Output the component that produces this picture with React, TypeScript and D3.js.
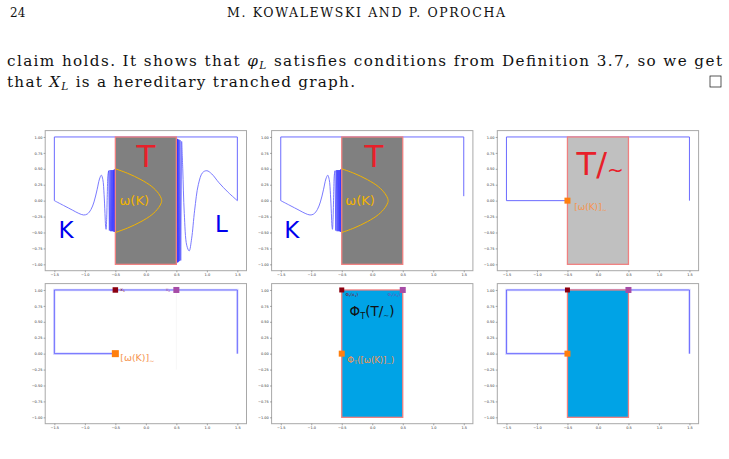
import React, { useRef, useEffect } from "react";
import * as d3 from "d3";

const width = 729;
const height = 459;

// panel placement (axes frames)
const colX = [45.2, 271.6, 497.3];
const rowY = [130.6, 283.6];
const panelW = 201.3;
const panelH = 140.1;

const xTicks = [-1.5, -1.0, -0.5, 0.0, 0.5, 1.0, 1.5];
const yTicks = [-1.0, -0.75, -0.5, -0.25, 0.0, 0.25, 0.5, 0.75, 1.0];

// the tranche box T
const boxLo = [-0.5, -1];
const boxHi = [0.5, 1];

// outer polylines
const frameOpen = [[-1.5, 0], [-1.5, 1], [1.5, 1], [1.5, 0]];
const frameShort = [[-1.5, 0], [-1.5, 1], [1.5, 1], [1.5, 0.07]];
const frameClosed = [[-0.5, 0], [-1.5, 0], [-1.5, 1], [1.5, 1], [1.5, 0]];

// K curve
const kWave = [
  [-1.5, 0], [-1.35, -0.075], [-1.2, -0.15], [-1.1, -0.2], [-1.02, -0.225],
  [-0.96, -0.21], [-0.9, -0.14], [-0.85, -0.02], [-0.8, 0.17], [-0.76, 0.34],
  [-0.73, 0.4], [-0.705, 0.33], [-0.685, 0.1], [-0.67, -0.2], [-0.66, -0.4],
  [-0.652, -0.45], [-0.643, -0.3], [-0.632, 0.1], [-0.622, 0.4], [-0.61, 0.47],
];
const kDense = [
  [-0.61, 0.47], [-0.598, -0.47], [-0.588, 0.48], [-0.578, -0.48], [-0.57, 0.48],
  [-0.562, -0.48], [-0.555, 0.48], [-0.548, -0.48], [-0.541, 0.48], [-0.535, -0.48],
  [-0.529, 0.48], [-0.524, -0.49], [-0.519, 0.49], [-0.514, -0.49], [-0.509, 0.49],
  [-0.505, -0.49], [-0.502, 0.49],
];

// L curve
const lDense = [
  [0.502, 0.97], [0.505, -0.97], [0.509, 0.97], [0.513, -0.97], [0.518, 0.97],
  [0.523, -0.97], [0.529, 0.96], [0.535, -0.96], [0.542, 0.96], [0.55, -0.95],
  [0.56, 0.95], [0.572, -0.94], [0.587, 0.93],
];
const lWave = [
  [0.587, 0.93], [0.605, 0.5], [0.63, -0.2], [0.67, -0.7], [0.71, -0.79],
  [0.75, -0.6], [0.8, -0.15], [0.86, 0.25], [0.93, 0.44], [1.0, 0.47],
  [1.08, 0.42], [1.2, 0.28], [1.35, 0.13], [1.5, 0],
];

// omega(K) arc
const omegaCurve = [
  [-0.5, 0.5], [-0.3, 0.43], [-0.08, 0.33], [0.1, 0.22], [0.21, 0.11],
  [0.255, 0.03], [0.26, 0], [0.255, -0.03], [0.21, -0.11], [0.1, -0.22],
  [-0.08, -0.33], [-0.3, -0.43], [-0.5, -0.5],
];

const x1Point = [-0.5, 1];
const x2Point = [0.5, 1];
const omegaPoint = [-0.5, 0];
const guideLine = [[0.5, 1], [0.5, -0.25]];

const blue = "#6b6bff";
const red = "#e8202a";
const gold = "#f2b400";
const orange = "#ff7f0e";
const orangeText = "#f5954f";
const maroon = "#8b0010";
const purple = "#a64ca6";
const sky = "#00a3e6";
const coral = "#f08080";
const sans = "DejaVu Sans";
const serif = "DejaVu Serif";

const Panel = ({ col, row, children }) => {
  const gx = useRef(null);
  const gy = useRef(null);
  const x0 = colX[col];
  const y0 = rowY[row];
  const x = d3.scaleLinear().domain([-1.65, 1.65]).range([x0, x0 + panelW]);
  const y = d3.scaleLinear().domain([-1.1, 1.1]).range([y0 + panelH, y0]);

  useEffect(() => {
    const ax = d3
      .select(gx.current)
      .call(
        d3.axisBottom(x).tickValues(xTicks).tickFormat(d3.format(".1f")).tickSize(1.6).tickPadding(1.2)
      );
    const ay = d3
      .select(gy.current)
      .call(
        d3.axisLeft(y).tickValues(yTicks).tickFormat(d3.format(".2f")).tickSize(1.6).tickPadding(1.2)
      );
    [ax, ay].forEach((g) => {
      g.select(".domain").remove();
      g.attr("font-size", 3.5).attr("font-family", sans).attr("color", "#555");
      g.selectAll("line").attr("stroke-width", 0.5);
      g.selectAll("text").attr("fill", "#333");
    });
  }, []);

  return (
    <g>
      {children(x, y)}
      <rect x={x0} y={y0} width={panelW} height={panelH} fill="none" stroke="#a8a8a8" strokeWidth={1} />
      <g ref={gx} transform={`translate(0,${y0 + panelH})`} />
      <g ref={gy} transform={`translate(${x0},0)`} />
    </g>
  );
};

const lineOf = (x, y, curve) =>
  d3.line().x((d) => x(d[0])).y((d) => y(d[1])).curve(curve || d3.curveLinear);

const Box = ({ x, y, fill }) => (
  <rect
    x={x(boxLo[0])}
    y={y(boxHi[1])}
    width={x(boxHi[0]) - x(boxLo[0])}
    height={y(boxLo[1]) - y(boxHi[1])}
    fill={fill}
    stroke={coral}
    strokeWidth={1.3}
  />
);

const Marker = ({ x, y, p, size, color }) => (
  <rect x={x(p[0]) - size / 2} y={y(p[1]) - size / 2} width={size} height={size} fill={color} />
);

const KCurve = ({ x, y }) => (
  <g fill="none">
    <path d={lineOf(x, y, d3.curveCatmullRom.alpha(0.5))(kWave)} stroke={blue} strokeWidth={0.9} />
    <path d={lineOf(x, y)(kDense)} stroke="#2b2bff" strokeWidth={0.6} />
  </g>
);

const GlowLine = ({ x, y, data }) => (
  <g fill="none">
    <path d={lineOf(x, y)(data)} stroke="#dedeff" strokeWidth={2.6} />
    <path d={lineOf(x, y)(data)} stroke="#6060ff" strokeWidth={0.9} />
  </g>
);

const PhiT = ({ size }) => (
  <>
    <tspan>Φ</tspan>
    <tspan fontSize={size * 0.62} dy={size * 0.22}>T</tspan>
  </>
);

const App = () => {
  return (
    <svg
      width={width}
      height={height}
      style={{ position: "absolute", left: 0, top: 0, background: "#fff" }}
    >
      {/* page text */}
      <g fill="#111">
        <text x={10} y={16.5} fontSize={12} fontFamily={serif}>24</text>
        <text x={227} y={16.5} fontSize={12.5} fontFamily={serif} textLength={278} lengthAdjust="spacing">
          M. KOWALEWSKI AND P. OPROCHA
        </text>
        <text x={7} y={66} fontSize={15.2} fontFamily={serif} textLength={715} lengthAdjust="spacing">
          claim holds. It shows that <tspan fontStyle="italic">φ</tspan>
          <tspan fontStyle="italic" fontSize={10.5} dy={3}>L</tspan>
          <tspan dy={-3}> satisfies conditions from Definition 3.7, so we get</tspan>
        </text>
        <text x={7} y={87} fontSize={15.2} fontFamily={serif} textLength={348} lengthAdjust="spacing">
          that <tspan fontStyle="italic">X</tspan>
          <tspan fontStyle="italic" fontSize={10.5} dy={3}>L</tspan>
          <tspan dy={-3}> is a hereditary tranched graph.</tspan>
        </text>
        <rect x={710} y={76} width={11} height={11} fill="none" stroke="#111" strokeWidth={0.7} />
      </g>

      {/* row 1, panel 1: K, T and L */}
      <Panel col={0} row={0}>
        {(x, y) => (
          <g>
            <path d={lineOf(x, y)(frameOpen)} fill="none" stroke={blue} strokeWidth={1} />
            <KCurve x={x} y={y} />
            <path d={lineOf(x, y)(lDense)} fill="none" stroke="#2b2bff" strokeWidth={0.6} />
            <path d={lineOf(x, y, d3.curveCatmullRom.alpha(0.5))(lWave)} fill="none" stroke={blue} strokeWidth={0.9} />
            <Box x={x} y={y} fill="#808080" />
            <path d={lineOf(x, y, d3.curveCatmullRom.alpha(0.5))(omegaCurve)} fill="none" stroke={gold} strokeWidth={1} />
            <g fontFamily={sans}>
              <text x={x(0)} y={y(0.53)} fontSize={31} fill={red} textAnchor="middle">T</text>
              <text x={x(-0.19)} y={y(0)} fontSize={13} fill={gold} textAnchor="middle" dominantBaseline="central">ω(K)</text>
              <text x={x(-1.31)} y={y(-0.59)} fontSize={23} fill="#0000ee" textAnchor="middle">K</text>
              <text x={x(1.24)} y={y(-0.5)} fontSize={23} fill="#0000ee" textAnchor="middle">L</text>
            </g>
          </g>
        )}
      </Panel>

      {/* row 1, panel 2: K and T */}
      <Panel col={1} row={0}>
        {(x, y) => (
          <g>
            <path d={lineOf(x, y)(frameShort)} fill="none" stroke={blue} strokeWidth={1} />
            <KCurve x={x} y={y} />
            <Box x={x} y={y} fill="#808080" />
            <path d={lineOf(x, y, d3.curveCatmullRom.alpha(0.5))(omegaCurve)} fill="none" stroke={gold} strokeWidth={1} />
            <g fontFamily={sans}>
              <text x={x(0.03)} y={y(0.53)} fontSize={31} fill={red} textAnchor="middle">T</text>
              <text x={x(-0.2)} y={y(0)} fontSize={13} fill={gold} textAnchor="middle" dominantBaseline="central">ω(K)</text>
              <text x={x(-1.32)} y={y(-0.59)} fontSize={23} fill="#0000ee" textAnchor="middle">K</text>
            </g>
          </g>
        )}
      </Panel>

      {/* row 1, panel 3: quotient T/~ */}
      <Panel col={2} row={0}>
        {(x, y) => (
          <g>
            <path d={lineOf(x, y)(frameClosed)} fill="none" stroke={blue} strokeWidth={1} />
            <Box x={x} y={y} fill="#c0c0c0" />
            <Marker x={x} y={y} p={omegaPoint} size={6} color={orange} />
            <g fontFamily={sans}>
              <text x={x(-0.35)} y={y(0.41)} fontSize={32} fill={red}>
                T/<tspan fontSize={20} dy={2}>~</tspan>
              </text>
              <text x={x(-0.39)} y={y(-0.15)} fontSize={9} fill={orangeText}>
                [ω(K)]<tspan fontSize={6} dy={2}>~</tspan>
              </text>
            </g>
          </g>
        )}
      </Panel>

      {/* row 2, panel 1: graph with points */}
      <Panel col={0} row={1}>
        {(x, y) => (
          <g>
            <path d={lineOf(x, y)(guideLine)} fill="none" stroke="#f0f0f0" strokeWidth={0.6} />
            <GlowLine x={x} y={y} data={frameClosed} />
            <Marker x={x} y={y} p={x1Point} size={5.5} color={maroon} />
            <Marker x={x} y={y} p={x2Point} size={6} color={purple} />
            <Marker x={x} y={y} p={omegaPoint} size={7} color={orange} />
            <g fontFamily={sans}>
              <text x={x(-0.42)} y={y(1)} fontSize={4.5} fill={maroon} dominantBaseline="central">
                x<tspan fontSize={3} dy={1}>1</tspan>
              </text>
              <text x={x(0.4)} y={y(1)} fontSize={4.5} fill={purple} dominantBaseline="central" textAnchor="end">
                x<tspan fontSize={3} dy={1}>2</tspan>
              </text>
              <text x={x(-0.42)} y={y(-0.115)} fontSize={9.5} fill={orangeText}>
                [ω(K)]<tspan fontSize={6} dy={2}>~</tspan>
              </text>
            </g>
          </g>
        )}
      </Panel>

      {/* row 2, panel 2: image under Phi_T */}
      <Panel col={1} row={1}>
        {(x, y) => (
          <g>
            <Box x={x} y={y} fill={sky} />
            <Marker x={x} y={y} p={x1Point} size={5} color={maroon} />
            <Marker x={x} y={y} p={x2Point} size={6} color={purple} />
            <Marker x={x} y={y} p={omegaPoint} size={6} color={orange} />
            <g fontFamily={sans}>
              <text x={x(-0.44)} y={y(0.9)} fontSize={4.3} fill={maroon}>
                <PhiT size={4.3} />
                <tspan dy={-0.95}>(x</tspan>
                <tspan fontSize={2.8} dy={0.9}>1</tspan>
                <tspan dy={-0.9}>)</tspan>
              </text>
              <text x={x(0.46)} y={y(0.9)} fontSize={4.3} fill="#6f4fb0" textAnchor="end">
                <PhiT size={4.3} />
                <tspan dy={-0.95}>(x</tspan>
                <tspan fontSize={2.8} dy={0.9}>2</tspan>
                <tspan dy={-0.9}>)</tspan>
              </text>
              <text x={x(-0.373)} y={y(0.59)} fontSize={13.5} fill="#111">
                <PhiT size={13.5} />
                <tspan dy={-2.97}>(T/</tspan>
                <tspan fontSize={7} dy={2}>~</tspan>
                <tspan dy={-2}>)</tspan>
              </text>
              <text x={x(-0.41)} y={y(-0.14)} fontSize={8.5} fill={orangeText}>
                <PhiT size={8.5} />
                <tspan dy={-1.87}>([ω(K)]</tspan>
                <tspan fontSize={5.5} dy={2}>~</tspan>
                <tspan dy={-2}>)</tspan>
              </text>
            </g>
          </g>
        )}
      </Panel>

      {/* row 2, panel 3: combined */}
      <Panel col={2} row={1}>
        {(x, y) => (
          <g>
            <GlowLine x={x} y={y} data={frameClosed} />
            <Box x={x} y={y} fill={sky} />
            <Marker x={x} y={y} p={x1Point} size={5} color={maroon} />
            <Marker x={x} y={y} p={x2Point} size={6} color={purple} />
            <Marker x={x} y={y} p={omegaPoint} size={6} color={orange} />
          </g>
        )}
      </Panel>
    </svg>
  );
};

export default App;
